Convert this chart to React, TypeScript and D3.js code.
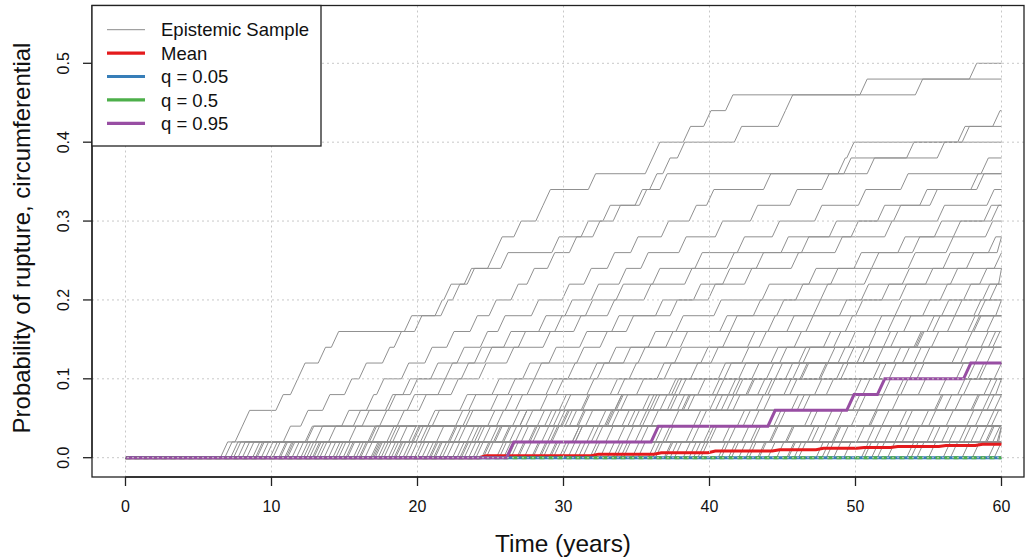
import React from 'react';
import * as d3 from 'd3';

const W = 1026;
const H = 559;
const FONT = '"Liberation Sans", Arial, sans-serif';

const xTicks = [0, 10, 20, 30, 40, 50, 60];
const yTicks = [0, 0.1, 0.2, 0.3, 0.4, 0.5];
const yTickLabels = ['0.0', '0.1', '0.2', '0.3', '0.4', '0.5'];

// each epistemic sample: times (years) at which the probability steps up by 0.02
const STEP = 0.02;
const sampleJumps: number[][] = [
  [6.8, 7.5, 7.8, 10.3, 11.3, 11.8, 13.2, 14.1, 19.1, 21.2, 21.8, 23.4, 24.8, 25.2, 26.6, 28.1, 28.6, 31.7, 35.6, 36.1, 38.2, 39.6, 41.1, 54.1],
  [9.0, 10.8, 12.0, 13.5, 15.0, 16.0, 17.6, 18.4, 19.8, 21.6, 22.4, 23.2, 25.7, 29.2, 31.2, 32.7, 35.2, 35.9, 36.8, 37.8, 41.7, 44.7, 45.1, 50.3, 57.8],
  [10.5, 12.4, 14.8, 16.5, 17.2, 18.9, 20.5, 22.0, 23.6, 24.9, 26.4, 27.5, 28.9, 30.4, 32.0, 33.4, 34.9, 36.6, 48.8, 49.4, 57.3, 59.4],
  [12.2, 13.9, 15.6, 17.8, 19.0, 20.9, 22.7, 24.3, 25.5, 27.8, 29.9, 31.4, 33.0, 34.6, 36.7, 38.6, 39.8, 43.7, 49.2, 53.5, 57.0],
  [11.0, 13.0, 16.2, 18.0, 19.5, 21.9, 23.9, 25.9, 28.3, 30.1, 31.9, 33.8, 35.3, 37.9, 40.4, 42.8, 45.5, 47.7, 50.8, 55.6],
  [13.3, 15.3, 17.4, 19.3, 21.4, 23.0, 24.6, 26.9, 29.4, 31.5, 33.6, 36.1, 39.0, 41.9, 44.3, 47.2, 50.2, 53.1, 58.6],
  [14.4, 16.7, 18.6, 20.1, 22.3, 24.2, 26.1, 28.6, 30.7, 33.0, 35.5, 38.3, 41.2, 44.9, 48.2, 51.5, 54.4, 57.9],
  [16.0, 17.9, 20.7, 22.9, 25.1, 27.2, 29.0, 31.1, 33.3, 36.3, 38.9, 40.9, 43.2, 46.3, 49.7, 52.6, 55.1, 58.3],
  [15.1, 18.3, 21.0, 23.5, 26.2, 28.0, 30.9, 32.5, 34.3, 37.3, 39.9, 42.4, 45.6, 48.6, 52.0, 55.6, 59.0],
  [17.0, 19.7, 22.6, 25.0, 27.5, 30.3, 33.1, 35.8, 37.7, 40.3, 43.6, 46.8, 49.9, 52.9, 55.4, 58.8],
  [18.2, 20.4, 23.1, 26.7, 29.5, 31.8, 34.1, 37.0, 40.7, 43.0, 45.9, 48.3, 51.1, 53.9, 56.7, 59.3],
  [16.8, 19.9, 23.3, 26.0, 28.8, 32.3, 35.1, 38.0, 41.4, 44.6, 47.6, 50.6, 53.6, 56.2, 58.9],
  [19.2, 22.1, 25.4, 28.4, 31.6, 34.5, 37.6, 40.9, 44.0, 47.1, 50.4, 53.2, 56.0, 59.1],
  [20.3, 23.7, 27.0, 30.0, 33.7, 36.9, 39.4, 42.6, 45.3, 48.9, 51.8, 54.8, 57.6, 59.7],
  [18.7, 22.8, 26.5, 29.7, 33.2, 36.4, 40.1, 43.4, 46.6, 50.0, 53.0, 56.5, 59.5],
  [21.1, 24.5, 28.2, 31.3, 35.0, 38.7, 42.2, 45.8, 49.3, 52.7, 55.8, 58.5],
  [23.0, 26.3, 29.6, 33.5, 37.2, 40.6, 44.2, 47.8, 51.3, 54.6, 57.4, 59.8],
  [22.0, 25.8, 29.8, 33.9, 37.4, 41.0, 44.8, 48.5, 52.2, 55.9, 59.2],
  [24.4, 27.9, 31.5, 35.4, 39.2, 42.9, 46.1, 49.5, 53.3, 56.8, 58.7],
  [20.8, 25.2, 29.3, 33.6, 37.9, 42.0, 46.4, 50.9, 54.9, 58.4],
  [25.6, 29.1, 32.8, 36.6, 40.5, 44.5, 48.1, 51.9, 55.3, 59.6],
  [27.3, 30.6, 34.4, 38.1, 41.6, 45.2, 48.8, 52.4, 56.3, 58.1],
  [23.8, 28.5, 32.9, 37.1, 41.3, 45.7, 50.1, 54.2, 57.7],
  [26.8, 30.8, 34.7, 38.5, 42.5, 46.2, 50.5, 54.0, 58.0],
  [29.0, 32.2, 36.0, 40.0, 43.8, 47.5, 51.4, 55.2, 59.0],
  [8.0, 16.9, 24.8, 31.2, 37.6, 43.9, 49.4, 54.1, 58.1],
  [11.7, 19.6, 27.0, 33.5, 40.2, 46.3, 52.6, 57.5],
  [14.9, 22.5, 29.0, 35.7, 41.8, 47.6, 53.2, 58.6],
  [17.5, 24.1, 30.9, 37.3, 43.3, 49.0, 54.6, 59.4],
  [10.9, 20.2, 28.7, 36.1, 42.6, 48.7, 54.0, 59.1],
  [9.6, 18.8, 27.4, 35.9, 44.0, 51.2, 56.6],
  [13.6, 22.2, 30.4, 38.2, 45.5, 52.3, 58.2],
  [20.0, 27.1, 34.0, 40.8, 47.2, 53.7, 59.0],
  [12.4, 21.3, 29.9, 37.8, 45.1, 51.6, 57.2],
  [8.3, 19.4, 30.1, 40.4, 49.9, 56.9],
  [12.8, 23.4, 32.4, 41.6, 50.5, 57.7],
  [16.4, 25.9, 35.2, 43.7, 51.9, 58.3],
  [21.5, 30.8, 38.9, 46.4, 53.1, 59.5],
  [15.2, 25.0, 33.3, 41.2, 48.0, 54.2],
  [18.4, 28.9, 37.4, 45.6, 52.8, 58.5],
  [7.2, 18.1, 31.0, 43.2, 54.3],
  [11.4, 23.9, 35.4, 46.0, 55.7],
  [15.6, 27.7, 39.3, 49.8, 57.4],
  [19.0, 31.9, 42.9, 51.4, 58.8],
  [24.7, 34.9, 44.4, 52.5, 59.2],
  [22.9, 32.9, 42.3, 50.2, 57.0],
  [26.1, 36.8, 46.9, 55.4, 59.6],
  [9.3, 25.3, 41.9, 55.5],
  [13.9, 29.2, 44.7, 56.8],
  [18.0, 33.7, 47.9, 57.9],
  [22.7, 37.0, 49.7, 58.7],
  [28.3, 40.9, 51.0, 59.0],
  [29.9, 39.8, 48.6, 56.1],
  [33.4, 42.8, 51.8, 58.0],
  [36.9, 45.3, 53.0, 59.5],
  [10.1, 30.6, 50.9],
  [14.2, 35.3, 53.4],
  [17.7, 38.4, 55.0],
  [21.7, 41.3, 56.2],
  [26.4, 44.2, 57.6],
  [32.5, 48.5, 59.3],
  [39.4, 47.5, 54.5],
  [42.5, 51.3, 58.2],
  [45.4, 52.7, 59.0],
  [7.7, 12.3, 33.0],
  [12.9, 16.6, 46.5],
  [8.7, 34.3], [12.0, 40.0], [13.1, 27.6], [15.8, 45.2], [17.1, 31.6], [19.5, 50.1],
  [20.6, 36.3], [23.2, 53.9], [24.0, 39.6], [25.9, 47.0], [27.8, 43.0], [29.3, 55.9],
  [30.3, 48.4], [31.8, 52.0], [33.9, 57.1], [36.3, 50.8], [38.6, 54.9], [40.6, 58.5],
  [43.4, 56.4], [45.8, 59.4], [47.3, 57.4], [50.4, 59.7],
  [28.6, 44.1], [31.3, 46.7], [34.1, 49.0], [37.3, 53.2], [41.3, 55.3], [44.0, 57.9],
  [48.0, 58.9], [51.5, 59.8], [53.8, 59.0], [21.2, 42.2], [16.9, 38.8], [10.6, 26.7],
  [6.5], [7.4], [8.9], [9.9], [11.1], [12.6], [14.6], [16.1], [17.3], [18.5], [19.8], [20.9],
  [22.4], [23.5], [24.5], [25.4], [26.2], [26.9], [27.9], [28.4], [29.1], [29.7], [30.7],
  [31.0], [32.0], [33.0], [33.6], [34.7], [35.1], [35.8], [36.1], [37.0], [37.6], [38.2],
  [38.9], [39.2], [40.8], [41.5], [42.0], [42.7], [43.3], [44.6], [45.3], [46.1], [47.7],
  [48.5], [49.2], [50.6], [51.1], [52.2], [53.5], [54.2], [55.0], [56.0], [56.5], [57.3],
  [58.0], [59.1], [59.5],
];

// summary statistics (step start time, level)
const meanTimes = [0, 24.2, 31.9, 36.2, 39.9, 44.3, 47.3, 50.1, 52.4, 55.7, 58.2];
const meanValues = [0, 0.0025, 0.0045, 0.0063, 0.0084, 0.0101, 0.012, 0.013, 0.0143, 0.0156, 0.0169];
const q05Times = [0];
const q05Values = [0];
const q50Times = [0];
const q50Values = [0];
const q95Times = [0, 26.1, 36.0, 44.0, 49.4, 51.5, 57.4];
const q95Values = [0, 0.02, 0.04, 0.06, 0.08, 0.1, 0.12];

const legendLabels = ['Epistemic Sample', 'Mean', 'q = 0.05', 'q = 0.5', 'q = 0.95'];
const legendColors = ['#8c8c8c', '#e41a1c', '#377eb8', '#4daf4a', '#984ea3'];

const RISE = 0.5; // time a step takes on the sample grid
const T_END = 60;

type Pt = [number, number];

function jumpsToPoints(jumps: number[]): Pt[] {
  const pts: Pt[] = [[0, 0]];
  let v = 0;
  let last = 0;
  jumps.forEach(t => {
    const t0 = Math.max(t, last);
    pts.push([t0, v]);
    v += STEP;
    last = Math.min(t0 + RISE, T_END);
    pts.push([last, v]);
  });
  pts.push([T_END, v]);
  return pts;
}

function levelsToPoints(times: number[], values: number[]): Pt[] {
  const pts: Pt[] = [[times[0], values[0]]];
  for (let i = 1; i < times.length; i++) {
    pts.push([times[i], values[i - 1]]);
    pts.push([Math.min(times[i] + RISE, T_END), values[i]]);
  }
  pts.push([T_END, values[values.length - 1]]);
  return pts;
}

export default function App() {
  const box = { left: 92, right: 1024, top: 5.5, bottom: 477 };
  const x = d3.scaleLinear().domain([0, 60]).range([125.5, 1001.5]);
  const y = d3.scaleLinear().domain([0, 0.5]).range([457.7, 63.3]);
  const line = d3.line<Pt>().x(d => x(d[0])).y(d => y(d[1]));

  const gridStyle = { stroke: '#c8c8c8', strokeWidth: 1, strokeDasharray: '2 3' };

  return (
    <svg width={W} height={H} style={{ position: 'absolute', left: 0, top: 0, background: '#fff' }}
      fontFamily={FONT}>
      <defs>
        <clipPath id="plotClip">
          <rect x={box.left} y={box.top} width={box.right - box.left} height={box.bottom - box.top} />
        </clipPath>
      </defs>

      <g clipPath="url(#plotClip)">
        {sampleJumps.map((j, i) => (
          <path key={i} d={line(jumpsToPoints(j)) || ''} fill="none" stroke="#909090" strokeWidth={1} />
        ))}
        <path d={line(levelsToPoints(meanTimes, meanValues)) || ''} fill="none" stroke="#e41a1c" strokeWidth={3} />
        <path d={line(levelsToPoints(q05Times, q05Values)) || ''} fill="none" stroke="#377eb8" strokeWidth={3} />
        <path d={line(levelsToPoints(q50Times, q50Values)) || ''} fill="none" stroke="#4daf4a" strokeWidth={3}
          strokeDasharray="5 4" />
        <path d={line(levelsToPoints(q95Times, q95Values)) || ''} fill="none" stroke="#984ea3" strokeWidth={3} />

        {xTicks.map(t => (
          <line key={'gx' + t} x1={x(t)} x2={x(t)} y1={box.top} y2={box.bottom} style={gridStyle} />
        ))}
        {yTicks.map(t => (
          <line key={'gy' + t} x1={box.left} x2={box.right} y1={y(t)} y2={y(t)} style={gridStyle} />
        ))}
      </g>

      {/* box */}
      <rect x={box.left} y={box.top} width={box.right - box.left} height={box.bottom - box.top}
        fill="none" stroke="#222" strokeWidth={1.3} />

      {/* x axis */}
      <line x1={x(0)} x2={x(60)} y1={box.bottom} y2={box.bottom} stroke="#222" strokeWidth={1.3} />
      {xTicks.map(t => (
        <g key={'xt' + t}>
          <line x1={x(t)} x2={x(t)} y1={box.bottom} y2={box.bottom + 9} stroke="#222" strokeWidth={1.3} />
          <text x={x(t)} y={512} textAnchor="middle" fontSize={16} fill="#111">{t}</text>
        </g>
      ))}

      {/* y axis */}
      <line x1={box.left} x2={box.left} y1={y(0)} y2={y(0.5)} stroke="#222" strokeWidth={1.3} />
      {yTicks.map((t, i) => (
        <g key={'yt' + t}>
          <line x1={box.left - 9} x2={box.left} y1={y(t)} y2={y(t)} stroke="#222" strokeWidth={1.3} />
          <text transform={`translate(69,${y(t)}) rotate(-90)`} textAnchor="middle" fontSize={16} fill="#111">
            {yTickLabels[i]}
          </text>
        </g>
      ))}

      {/* axis titles */}
      <text x={563} y={552} textAnchor="middle" fontSize={24.4} fill="#111">Time (years)</text>
      <text transform="translate(30,238) rotate(-90)" textAnchor="middle" fontSize={24} fill="#111">
        Probability of rupture, circumferential
      </text>

      {/* legend */}
      <rect x={box.left} y={box.top} width={229} height={140.5} fill="#fff" stroke="#222" strokeWidth={1.3} />
      {legendLabels.map((lab, i) => {
        const cy = 29.7 + i * 23.4;
        return (
          <g key={lab}>
            <line x1={107} x2={145} y1={cy} y2={cy} stroke={legendColors[i]} strokeWidth={i === 0 ? 1 : 3.2} />
            <text x={161} y={cy + 6.6} fontSize={18.5} fill="#111">{lab}</text>
          </g>
        );
      })}
    </svg>
  );
}
